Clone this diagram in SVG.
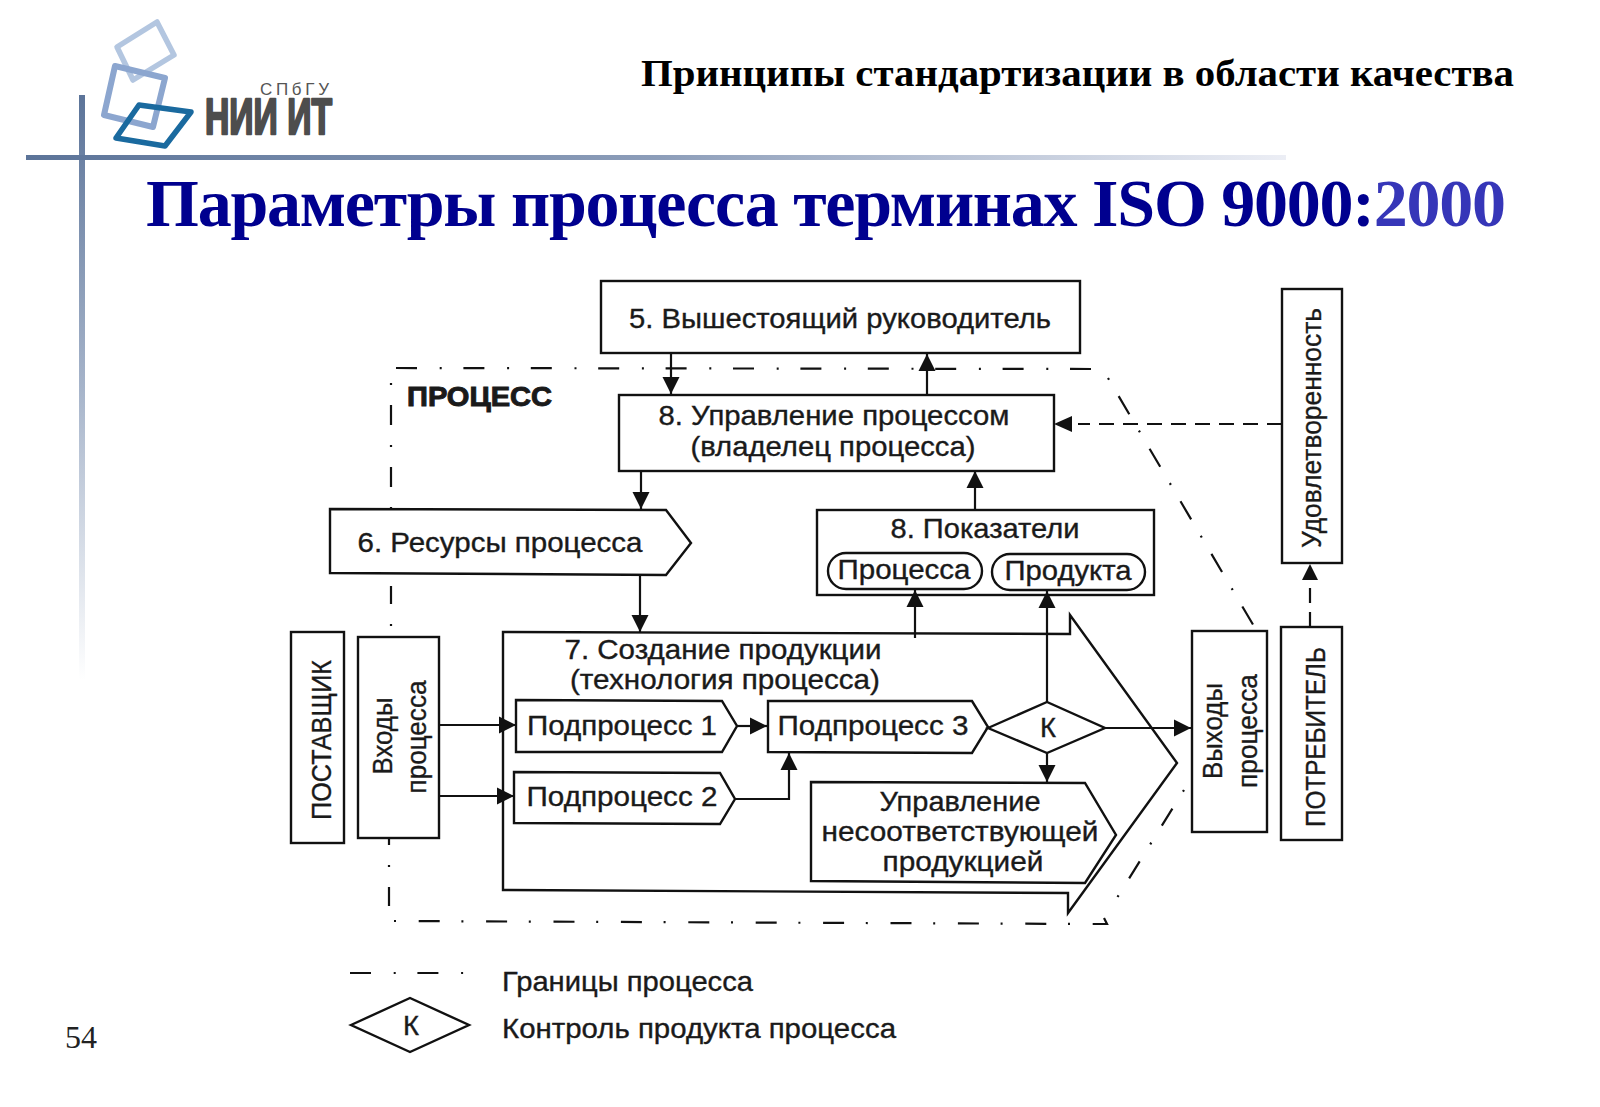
<svg xmlns="http://www.w3.org/2000/svg" width="1600" height="1107" viewBox="0 0 1600 1107">
<style>
.b{fill:#fff;stroke:#111;stroke-width:2.4}
.n{fill:none;stroke:#111;stroke-width:2.4}
.c{fill:none;stroke:#111;stroke-width:2.2}
.a{fill:#111;stroke:none}
.d{fill:none;stroke:#111;stroke-width:2.2;stroke-dasharray:15 9}
.bd{fill:none;stroke:#111;stroke-width:2.2;stroke-dasharray:21 22.7 2 21.7}
.bv{fill:none;stroke:#111;stroke-width:2.2;stroke-dasharray:2 20 20 20}
text{font-family:"Liberation Sans",Arial,sans-serif;fill:#1a1a1a}
.t{font-size:27.5px;text-anchor:middle;stroke:#1a1a1a;stroke-width:.35}
.s{font-family:"Liberation Serif","Times New Roman",serif;font-weight:bold}
</style>
<defs>
<linearGradient id="gh" x1="0" x2="1" y1="0" y2="0"><stop offset="0" stop-color="#5c7499"/><stop offset=".5" stop-color="#8c9db9"/><stop offset="1" stop-color="#eceef5"/></linearGradient>
<linearGradient id="gv" x1="0" x2="0" y1="0" y2="1"><stop offset="0" stop-color="#5c7499"/><stop offset=".5" stop-color="#a6b4ca"/><stop offset="1" stop-color="#ffffff"/></linearGradient>
<marker id="ar" markerUnits="userSpaceOnUse" markerWidth="18" markerHeight="18" refX="17" refY="9" orient="auto"><path d="M0 0.5L17 9L0 17.5Z" class="a"/></marker>
</defs>
<rect width="1600" height="1107" fill="#fff"/>
<g id="decor">
<rect x="79" y="95" width="6" height="585" fill="url(#gv)"/>
<rect x="26" y="155" width="1260" height="5" fill="url(#gh)"/>
</g>
<g id="logo" fill="none" stroke-linejoin="round">
<path d="M157 22L174 55L133 80L117 47Z" stroke="#b3c6e0" stroke-width="5.5"/>
<path d="M115 66L165 78L153 127L104 115Z" stroke="#8ca6cf" stroke-width="6"/>
<path d="M139 105L191 112L165 146L116 138Z" stroke="#1a6a9f" stroke-width="5.5"/>
<text x="260" y="95" font-size="17" letter-spacing="4" textLength="73" style="fill:#555">СПбГУ</text>
<text x="205" y="134" font-size="50" font-weight="bold" textLength="127" lengthAdjust="spacingAndGlyphs" style="fill:#4d4d4d;stroke:#4d4d4d;stroke-width:2.4">НИИ ИТ</text>
</g>
<g id="titles">
<text class="s" x="641" y="86" font-size="38" textLength="873" lengthAdjust="spacingAndGlyphs" style="fill:#000">Принципы стандартизации в области качества</text>
<text class="s" x="146" y="226" font-size="68" textLength="1360" lengthAdjust="spacing" style="fill:#00008f">Параметры процесса терминах ISO 9000:<tspan style="fill:#3636b8">2000</tspan></text>
<text x="65" y="1048" font-size="32" style="font-family:'Liberation Serif',serif;fill:#222">54</text>
</g>
<g id="boundary">
<path class="bd" d="M396 368L1091 369"/>
<path class="c" stroke-dasharray="21 19 2 19" stroke-dashoffset="40" d="M1108 378L1255 628"/>
<path class="bv" d="M391 383V510"/>
<path class="c" stroke-dasharray="18 20 2 20" d="M391 586V627"/>
<path class="c" stroke-dasharray="7 20 2 20 19 100" d="M389 838V906"/>
<path class="c" stroke-dasharray="2 22.7 21 21.7" d="M394 921L1094 924L1107 924L1103 916"/>
<path class="bv" stroke-dasharray="2 20 20 20" d="M1184 790L1107 914"/>
</g>
<g id="n7">
<path class="b" d="M503 632L1070 634L1070 615L1177 763L1068 913L1068 893L503 890Z"/>
<text class="t" x="723" y="659" textLength="317" lengthAdjust="spacingAndGlyphs">7. Создание продукции</text>
<text class="t" x="725" y="689" textLength="310" lengthAdjust="spacingAndGlyphs">(технология процесса)</text>
</g>
<g id="n5"><rect class="b" x="601" y="281" width="479" height="72"/><text class="t" x="840" y="328" textLength="422" lengthAdjust="spacingAndGlyphs">5. Вышестоящий руководитель</text></g>
<g id="n8m"><rect class="b" x="619" y="395" width="435" height="76"/><text class="t" x="834" y="425" textLength="351" lengthAdjust="spacingAndGlyphs">8. Управление процессом</text><text class="t" x="833" y="456" textLength="285" lengthAdjust="spacingAndGlyphs">(владелец процесса)</text></g>
<g id="n6"><path class="b" d="M330 509L666 510L691 543L666 575L330 573Z"/><text class="t" x="500" y="552" textLength="285" lengthAdjust="spacingAndGlyphs">6. Ресурсы процесса</text></g>
<g id="n8p"><rect class="b" x="817" y="510" width="337" height="85"/><text class="t" x="985" y="538" textLength="189" lengthAdjust="spacingAndGlyphs">8. Показатели</text>
<rect class="n" x="828" y="553" width="154" height="36" rx="18"/><text class="t" x="904" y="579" textLength="133" lengthAdjust="spacingAndGlyphs">Процесса</text>
<rect class="n" x="992" y="554" width="153" height="36" rx="18"/><text class="t" x="1068" y="580" textLength="127" lengthAdjust="spacingAndGlyphs">Продукта</text></g>
<g id="nsat"><rect class="b" x="1282" y="289" width="60" height="274"/><text class="t" transform="translate(1321 428) rotate(-90)" textLength="240" lengthAdjust="spacingAndGlyphs">Удовлетворенность</text></g>
<g id="nsup"><rect class="b" x="291" y="632" width="53" height="211"/><text class="t" transform="translate(331 740) rotate(-90)" textLength="160" lengthAdjust="spacingAndGlyphs">ПОСТАВЩИК</text></g>
<g id="nin"><rect class="b" x="358" y="637" width="81" height="201"/><text class="t" transform="translate(392 736) rotate(-90)" textLength="77" lengthAdjust="spacingAndGlyphs">Входы</text><text class="t" transform="translate(426 737) rotate(-90)" textLength="113" lengthAdjust="spacingAndGlyphs">процесса</text></g>
<g id="ns1"><path class="b" d="M516 700L722 701L737 726L722 752L516 752Z"/><text class="t" x="622" y="735" textLength="190" lengthAdjust="spacingAndGlyphs">Подпроцесс 1</text></g>
<g id="ns2"><path class="b" d="M514 772L720 773L735 799L720 824L514 823Z"/><text class="t" x="622" y="806" textLength="191" lengthAdjust="spacingAndGlyphs">Подпроцесс 2</text></g>
<g id="ns3"><path class="b" d="M768 701L972 701L988 727L972 753L768 752Z"/><text class="t" x="873" y="735" textLength="191" lengthAdjust="spacingAndGlyphs">Подпроцесс 3</text></g>
<g id="nk"><path class="b" d="M988 728L1047 702L1105 728L1047 753Z"/><text class="t" x="1048" y="737">К</text></g>
<g id="nnc"><path class="b" d="M811 782L1085 783L1116 835L1085 883L811 881Z"/><text class="t" x="960" y="811" textLength="161" lengthAdjust="spacingAndGlyphs">Управление</text><text class="t" x="960" y="841" textLength="277" lengthAdjust="spacingAndGlyphs">несоответствующей</text><text class="t" x="963" y="871" textLength="161" lengthAdjust="spacingAndGlyphs">продукцией</text></g>
<g id="nout"><rect class="b" x="1192" y="631" width="75" height="201"/><text class="t" transform="translate(1222 731) rotate(-90)" textLength="96" lengthAdjust="spacingAndGlyphs">Выходы</text><text class="t" transform="translate(1257 731) rotate(-90)" textLength="114" lengthAdjust="spacingAndGlyphs">процесса</text></g>
<g id="ncon"><rect class="b" x="1281" y="627" width="61" height="213"/><text class="t" transform="translate(1325 737) rotate(-90)" textLength="180" lengthAdjust="spacingAndGlyphs">ПОТРЕБИТЕЛЬ</text></g>
<g id="connectors">
<path class="c" marker-end="url(#ar)" d="M671 353V394"/>
<path class="c" marker-end="url(#ar)" d="M927 394V354"/>
<path class="c" marker-end="url(#ar)" d="M641 471V509"/>
<path class="c" marker-end="url(#ar)" d="M640 574V632"/>
<path class="c" marker-end="url(#ar)" d="M975 510V471"/>
<path class="c" marker-end="url(#ar)" d="M915 638V590"/>
<path class="c" marker-end="url(#ar)" d="M1047 702V591"/>
<path class="c" marker-end="url(#ar)" d="M440 725H516"/>
<path class="c" marker-end="url(#ar)" d="M440 796H514"/>
<path class="c" marker-end="url(#ar)" d="M737 726H767"/>
<path class="c" marker-end="url(#ar)" d="M735 799H789V753"/>
<path class="c" marker-end="url(#ar)" d="M1105 728H1191"/>
<path class="c" marker-end="url(#ar)" d="M1047 753V782"/>
<path class="d" d="M1282 424H1078"/>
<path class="a" d="M1054 424L1072 416V432Z"/>
<path class="d" d="M1310 627V580"/>
<path class="a" d="M1310 564L1302 580H1318Z"/>
</g>
<g id="procLabel"><text x="407" y="406" font-size="28" font-weight="bold" textLength="145" lengthAdjust="spacingAndGlyphs" style="stroke:#1a1a1a;stroke-width:1">ПРОЦЕСС</text></g>
<g id="legend">
<path class="bd" d="M350 973H464"/>
<path class="b" d="M351 1025L410 998L469 1025L410 1052Z"/>
<text class="t" x="411" y="1035">К</text>
<text x="502" y="991" font-size="27.5" textLength="251" lengthAdjust="spacingAndGlyphs" style="stroke:#1a1a1a;stroke-width:.35">Границы процесса</text>
<text x="502" y="1038" font-size="27.5" textLength="394" lengthAdjust="spacingAndGlyphs" style="stroke:#1a1a1a;stroke-width:.35">Контроль продукта процесса</text>
</g>
</svg>
